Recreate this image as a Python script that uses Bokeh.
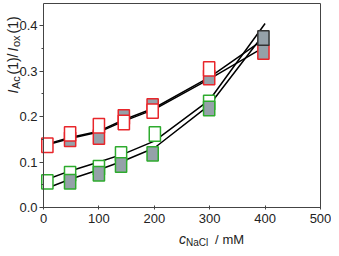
import math
from bokeh.plotting import figure
from bokeh.models import Range1d, Label, FixedTicker, PrintfTickFormatter, LinearAxis
from bokeh.embed import file_html
from bokeh.resources import INLINE

# ---- data ----
curve_x = [7, 48, 100, 145, 200, 300, 400]
red_curve_a = [0.138, 0.152, 0.166, 0.190, 0.216, 0.283, 0.354]
red_curve_b = [0.140, 0.154, 0.168, 0.193, 0.219, 0.287, 0.372]
green_curve_a = [0.062, 0.0805, 0.100, 0.118, 0.146, 0.237, 0.405]
green_curve_b = [0.043, 0.062, 0.083, 0.103, 0.131, 0.226, 0.385]

red_open_x = [7, 48, 100, 145, 197, 299]
red_open_y = [0.137, 0.162, 0.180, 0.187, 0.212, 0.305]
red_fill_x = [48, 100, 145, 197, 299, 397]
red_fill_y = [0.150, 0.155, 0.199, 0.2235, 0.286, 0.342]
green_open_x = [7, 48, 100, 140, 201, 299]
green_open_y = [0.0564, 0.0744, 0.0877, 0.118, 0.1616, 0.231]
green_fill_x = [48, 100, 140, 197, 299]
green_fill_y = [0.0566, 0.0744, 0.0934, 0.118, 0.218]
overlap_x = [397]
overlap_y = [0.373]

x_ticks = [0, 100, 200, 300, 400, 500]
y_ticks = [0.0, 0.1, 0.2, 0.3, 0.4]
y_minor = [0.05, 0.15, 0.25, 0.35]
x_lim = (0, 500)
y_lim = (0, 0.45)

RED = "#e8262b"
GREEN = "#2eab2e"
GREY = "#95a1a9"
AXC = "#444444"
TXT = "#222222"
FONT = "Liberation Sans"

W, H = 331, 248
# where the data box sits on the canvas (pixels)
X0_PX, X500_PX = 43.0, 320.0
Y0_PX, YTOP_PX = 207.0, 2.5
sx_unit = (X500_PX - X0_PX) / (x_lim[1] - x_lim[0])
sy_unit = (Y0_PX - YTOP_PX) / (y_lim[1] - y_lim[0])

p = figure(width=W, height=H, output_backend="svg", toolbar_location=None,
           x_range=Range1d(-X0_PX / sx_unit, (W - X0_PX) / sx_unit),
           y_range=Range1d(-(H - Y0_PX) / sy_unit, Y0_PX / sy_unit),
           min_border=0)
p.xgrid.visible = False
p.ygrid.visible = False
p.outline_line_color = None
p.background_fill_color = "white"
p.border_fill_color = "white"

xa = p.xaxis[0]
ya = p.yaxis[0]
for ax in (xa, ya):
    ax.axis_line_color = AXC
    ax.major_tick_line_color = AXC
    ax.minor_tick_line_color = AXC
    ax.major_label_text_font = FONT
    ax.major_label_text_font_size = "13px"
    ax.major_label_text_color = TXT
    ax.axis_label = None

xa.fixed_location = 0
xa.bounds = x_lim
xa.ticker = FixedTicker(ticks=x_ticks, minor_ticks=[])
xa.major_tick_in = 2
xa.major_tick_out = 2
xa.major_label_standoff = 4

ya.fixed_location = 0
ya.bounds = y_lim
ya.ticker = FixedTicker(ticks=y_ticks, minor_ticks=y_minor)
ya.formatter = PrintfTickFormatter(format="%.1f")
ya.major_tick_in = 0
ya.major_tick_out = 4
ya.minor_tick_in = 0
ya.minor_tick_out = 2
ya.major_label_standoff = 2

# top and right frame edges
top = LinearAxis(fixed_location=y_lim[1], bounds=x_lim, ticker=FixedTicker(ticks=[]),
                 major_label_text_font_size="0px", axis_line_color=AXC,
                 major_tick_line_color=None, minor_tick_line_color=None)
right = LinearAxis(fixed_location=x_lim[1], bounds=y_lim, ticker=FixedTicker(ticks=[]),
                   major_label_text_font_size="0px", axis_line_color=AXC,
                   major_tick_line_color=None, minor_tick_line_color=None)
p.add_layout(top, "above")
p.add_layout(right, "right")

# curves
for ys in (red_curve_a, red_curve_b, green_curve_a, green_curve_b):
    p.line(curve_x, ys, line_color="black", line_width=1.5)

def boxes(xs, ys, fill, line):
    p.rect(xs, ys, width=11.2, height=14.4, width_units="screen", height_units="screen",
           fill_color=fill, line_color=line, line_width=1.5)

boxes(red_fill_x, red_fill_y, GREY, RED)
boxes(red_open_x, red_open_y, "white", RED)
boxes(green_open_x, green_open_y, "white", GREEN)
boxes(green_fill_x, green_fill_y, GREY, GREEN)
boxes(overlap_x, overlap_y, GREY, "#333333")

# axis titles from text pieces; positions in canvas pixels (top-left origin)
def lab(txt, px, py, size, italic=False, angle=0.0):
    p.add_layout(Label(x=px, y=H - py, x_units="screen", y_units="screen", text=txt,
                       text_font=FONT, text_font_size=size, text_color=TXT,
                       text_font_style="italic" if italic else "normal",
                       text_baseline="alphabetic", text_align="left", angle=angle))

# x title: c_NaCl / mM
lab("c", 178.5, 238.5, "14px", italic=True)
lab("NaCl", 185.5, 241.5, "10px")
lab("/", 214.5, 238.5, "13px")
lab("mM", 222.0, 238.5, "13px")

# y title: I_Ac(1)/I_ox(1), rotated (reads bottom to top)
a = math.pi / 2
bx = 12.5
sbx = bx + 3
lab("I", bx, 93, "14px", italic=True, angle=a)
lab("Ac", sbx, 88.5, "11px", angle=a)
lab("(1)/", bx, 74, "14px", angle=a)
lab("I", bx, 51, "14px", italic=True, angle=a)
lab("ox", sbx, 46.5, "11px", angle=a)
lab("(1)", bx, 33, "14px", angle=a)

open("out.html", "w").write(file_html(p, INLINE))
